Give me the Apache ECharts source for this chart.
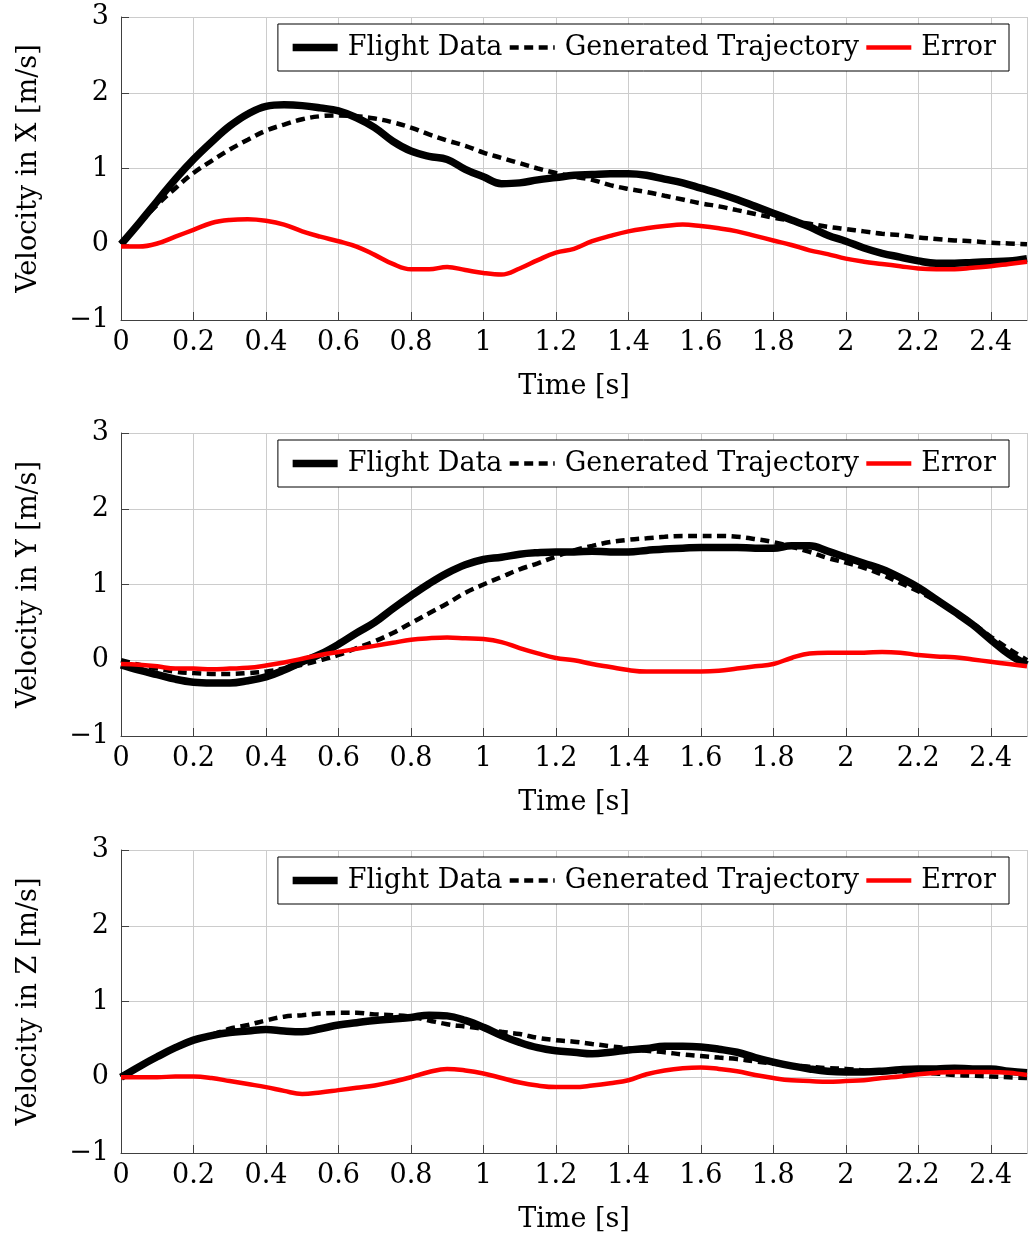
<!DOCTYPE html>
<html>
<head>
<meta charset="utf-8">
<script src="https://cdn.jsdelivr.net/npm/echarts@6/dist/echarts.min.js"></script>
<style>
  html, body { margin: 0; padding: 0; background: #fff; }
  #chart { width: 1029px; height: 1238px; }
</style>
</head>
<body>
<div id="chart"></div>
<script>
// time samples [s]
var time = [0, 0.05, 0.1, 0.15, 0.2, 0.25, 0.3, 0.35, 0.4, 0.45, 0.5,
  0.55, 0.6, 0.65, 0.7, 0.75, 0.8, 0.85, 0.9, 0.95, 1.0,
  1.05, 1.1, 1.15, 1.2, 1.25, 1.3, 1.35, 1.4, 1.45, 1.5,
  1.55, 1.6, 1.65, 1.7, 1.75, 1.8, 1.85, 1.9, 1.95, 2.0,
  2.05, 2.1, 2.15, 2.2, 2.25, 2.3, 2.35, 2.4, 2.45, 2.5];

// velocity in X
var flightX = [0, 0.28, 0.57, 0.86, 1.12, 1.35, 1.56, 1.72, 1.82, 1.84, 1.83,
  1.80, 1.76, 1.67, 1.54, 1.36, 1.23, 1.16, 1.12, 0.99, 0.89,
  0.80, 0.81, 0.85, 0.88, 0.91, 0.92, 0.93, 0.93, 0.91, 0.86,
  0.81, 0.74, 0.67, 0.59, 0.50, 0.41, 0.32, 0.23, 0.12, 0.04,
  -0.05, -0.12, -0.17, -0.22, -0.25, -0.25, -0.24, -0.23, -0.22, -0.19];
var genX = [0, 0.27, 0.52, 0.74, 0.94, 1.10, 1.25, 1.38, 1.50, 1.58, 1.65,
  1.69, 1.70, 1.69, 1.66, 1.61, 1.54, 1.45, 1.37, 1.30, 1.21,
  1.14, 1.07, 1.00, 0.94, 0.89, 0.85, 0.78, 0.73, 0.69, 0.64,
  0.59, 0.54, 0.50, 0.45, 0.40, 0.35, 0.31, 0.27, 0.23, 0.20,
  0.17, 0.14, 0.12, 0.09, 0.07, 0.05, 0.04, 0.02, 0.01, 0.0];
var errX = [-0.03, -0.03, 0.01, 0.10, 0.19, 0.28, 0.32, 0.33, 0.31, 0.26, 0.17,
  0.10, 0.04, -0.03, -0.14, -0.26, -0.33, -0.33, -0.30, -0.34, -0.38,
  -0.40, -0.32, -0.21, -0.11, -0.06, 0.04, 0.11, 0.17, 0.21, 0.24,
  0.26, 0.24, 0.21, 0.17, 0.11, 0.05, -0.01, -0.08, -0.13, -0.19,
  -0.23, -0.26, -0.29, -0.32, -0.33, -0.33, -0.31, -0.29, -0.26, -0.23];

// velocity in Y
var flightY = [-0.06, -0.13, -0.19, -0.25, -0.29, -0.30, -0.30, -0.27, -0.22, -0.13, -0.02,
  0.08, 0.21, 0.36, 0.50, 0.68, 0.85, 1.01, 1.15, 1.26, 1.33,
  1.36, 1.40, 1.42, 1.43, 1.43, 1.44, 1.43, 1.43, 1.45, 1.47,
  1.48, 1.49, 1.49, 1.49, 1.48, 1.48, 1.51, 1.51, 1.44, 1.36,
  1.28, 1.20, 1.09, 0.96, 0.80, 0.64, 0.47, 0.27, 0.08, -0.06];
var genY = [0, -0.06, -0.11, -0.15, -0.17, -0.18, -0.18, -0.17, -0.15, -0.11, -0.06,
  0, 0.07, 0.16, 0.25, 0.36, 0.49, 0.62, 0.75, 0.89, 1.0,
  1.10, 1.20, 1.28, 1.37, 1.45, 1.51, 1.56, 1.59, 1.61, 1.63,
  1.64, 1.64, 1.64, 1.63, 1.60, 1.56, 1.50, 1.43, 1.35, 1.29,
  1.22, 1.13, 1.02, 0.91, 0.78, 0.64, 0.49, 0.31, 0.15, 0.0];
var errY = [-0.05, -0.06, -0.08, -0.11, -0.11, -0.12, -0.11, -0.10, -0.07, -0.03, 0.02,
  0.07, 0.11, 0.15, 0.19, 0.23, 0.27, 0.29, 0.30, 0.29, 0.28,
  0.24, 0.16, 0.09, 0.03, 0.0, -0.05, -0.09, -0.13, -0.15, -0.15,
  -0.15, -0.15, -0.14, -0.11, -0.08, -0.05, 0.03, 0.09, 0.10, 0.10,
  0.10, 0.11, 0.10, 0.07, 0.05, 0.04, 0.01, -0.02, -0.05, -0.08];

// velocity in Z
var flightZ = [0, 0.14, 0.27, 0.39, 0.49, 0.55, 0.59, 0.61, 0.63, 0.61, 0.60,
  0.64, 0.69, 0.72, 0.75, 0.77, 0.79, 0.82, 0.81, 0.75, 0.66,
  0.55, 0.46, 0.39, 0.35, 0.33, 0.31, 0.33, 0.36, 0.38, 0.41,
  0.41, 0.40, 0.37, 0.33, 0.26, 0.20, 0.15, 0.11, 0.08, 0.07,
  0.07, 0.08, 0.10, 0.11, 0.11, 0.12, 0.11, 0.11, 0.08, 0.06];
var genZ = [0, 0.14, 0.27, 0.39, 0.49, 0.56, 0.64, 0.69, 0.75, 0.80, 0.82,
  0.84, 0.85, 0.85, 0.83, 0.82, 0.80, 0.75, 0.70, 0.67, 0.64,
  0.60, 0.57, 0.52, 0.49, 0.47, 0.44, 0.41, 0.38, 0.35, 0.33,
  0.30, 0.28, 0.26, 0.24, 0.21, 0.18, 0.16, 0.14, 0.12, 0.11,
  0.09, 0.08, 0.07, 0.06, 0.05, 0.03, 0.02, 0.01, 0.0, -0.01];
var errZ = [0, 0, 0, 0.01, 0.01, -0.01, -0.05, -0.09, -0.13, -0.18, -0.22,
  -0.20, -0.17, -0.14, -0.11, -0.06, 0.0, 0.07, 0.11, 0.09, 0.05,
  -0.01, -0.07, -0.11, -0.13, -0.13, -0.11, -0.08, -0.04, 0.04, 0.09,
  0.12, 0.13, 0.11, 0.08, 0.03, -0.01, -0.04, -0.05, -0.06, -0.05,
  -0.04, -0.01, 0.01, 0.04, 0.06, 0.07, 0.07, 0.07, 0.06, 0.03];

var seriesNames = ['Flight Data', 'Generated Trajectory', 'Error'];
var axisNames = ['Velocity in X [m/s]', 'Velocity in Y [m/s]', 'Velocity in Z [m/s]'];
var panels = [[flightX, genX, errX], [flightY, genY, errY], [flightZ, genZ, errZ]];

var font = 'DejaVu Serif';
var fontSize = 27;
var gridTops = [17, 433, 850];
var legendTops = [24, 440, 857];

function pairs(vals) {
  return time.map(function (t, i) { return [t, vals[i]]; });
}

var grids = [], xAxes = [], yAxes = [], legends = [], series = [];
gridTops.forEach(function (top, k) {
  grids.push({ left: 121, right: 2, top: top, height: 303 });
  xAxes.push({
    gridIndex: k, type: 'value', min: 0, max: 2.5, interval: 0.2,
    name: 'Time [s]', nameLocation: 'middle', nameGap: 53,
    nameTextStyle: { fontFamily: font, fontSize: fontSize, color: '#000' },
    axisLine: { onZero: false, lineStyle: { color: '#404040', width: 1 } },
    axisTick: { inside: true, length: 8, lineStyle: { color: '#404040' } },
    axisLabel: { fontFamily: font, fontSize: fontSize, color: '#000', margin: 9, showMaxLabel: false },
    splitLine: { lineStyle: { color: '#cccccc', width: 1 } }
  });
  yAxes.push({
    gridIndex: k, type: 'value', min: -1, max: 3, interval: 1,
    name: axisNames[k], nameLocation: 'middle', nameGap: 79,
    nameTextStyle: { fontFamily: font, fontSize: fontSize, color: '#000' },
    axisLine: { show: true, lineStyle: { color: '#404040', width: 1 } },
    axisTick: { show: true, inside: true, length: 8, lineStyle: { color: '#404040' } },
    axisLabel: {
      fontFamily: font, fontSize: fontSize, color: '#000', margin: 12,
      formatter: function (v) { return String(v).replace('-', '\u2212'); }
    },
    splitLine: { lineStyle: { color: '#cccccc', width: 1 } }
  });
  legends.push({
    data: seriesNames, top: legendTops[k], right: 20,
    orient: 'horizontal', selectedMode: false,
    itemWidth: 45, itemHeight: 14, itemGap: 5,
    padding: [10, 13, 10, 11],
    backgroundColor: '#fff', borderColor: '#000', borderWidth: 1, borderRadius: 0,
    itemStyle: { opacity: 0 },
    lineStyle: { width: 'inherit', type: 'inherit', opacity: 1 },
    textStyle: { fontFamily: font, fontSize: fontSize, color: '#000', padding: [0, 0, 0, 5] }
  });
  var vals = panels[k];
  series.push({
    name: seriesNames[0], type: 'line', xAxisIndex: k, yAxisIndex: k,
    data: pairs(vals[0]), smooth: 0.4, symbol: 'none',
    lineStyle: { color: '#000', width: 7.5 }, itemStyle: { color: '#000' }
  });
  series.push({
    name: seriesNames[1], type: 'line', xAxisIndex: k, yAxisIndex: k,
    data: pairs(vals[1]), smooth: 0.4, symbol: 'none',
    lineStyle: { color: '#000', width: 4.5, type: [9, 5.5] }, itemStyle: { color: '#000' }
  });
  series.push({
    name: seriesNames[2], type: 'line', xAxisIndex: k, yAxisIndex: k,
    data: pairs(vals[2]), smooth: 0.4, symbol: 'none',
    lineStyle: { color: '#ff0000', width: 4.5 }, itemStyle: { color: '#ff0000' }
  });
});

var chart = echarts.init(document.getElementById('chart'));
chart.setOption({
  animation: false,
  backgroundColor: '#fff',
  grid: grids,
  xAxis: xAxes,
  yAxis: yAxes,
  legend: legends,
  series: series
});
</script>
</body>
</html>
